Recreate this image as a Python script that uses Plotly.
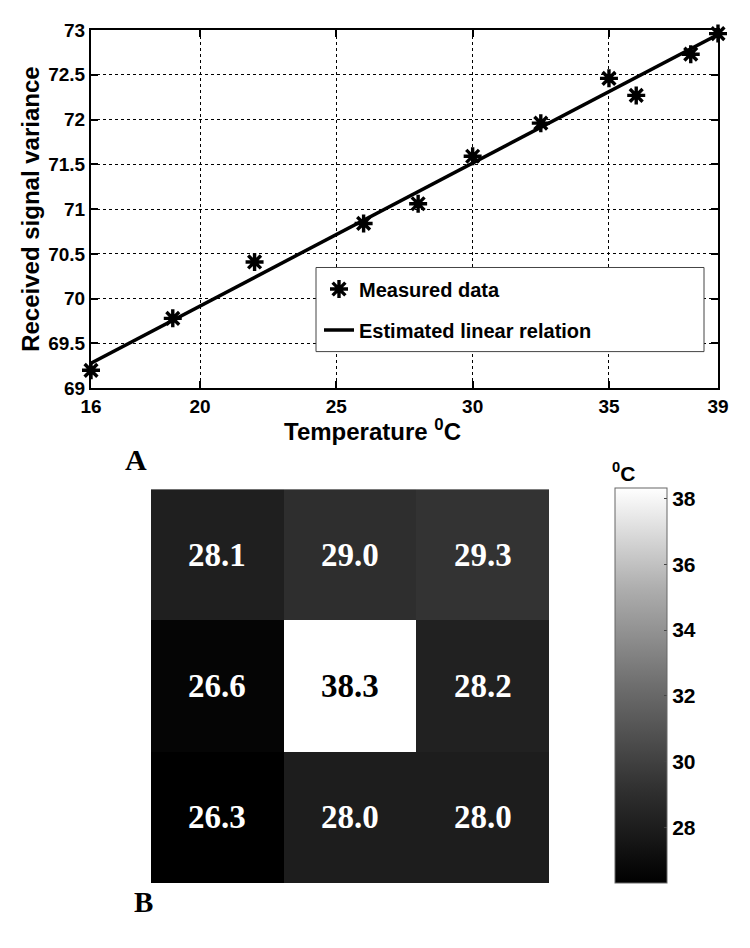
import plotly.graph_objects as go

# ---- Panel A data ----
temperature = [16, 19, 22, 26, 28, 30, 32.5, 35, 36, 38, 39]
variance = [69.2, 69.78, 70.41, 70.84, 71.06, 71.59, 71.96, 72.46, 72.27, 72.73, 72.96]
fit_x = [16, 39]
fit_y = [69.28, 72.95]
x_ticks = [16, 20, 25, 30, 35, 39]
y_ticks = [69, 69.5, 70, 70.5, 71, 71.5, 72, 72.5, 73]

# ---- Panel B data ----
grid_temps = [
    [28.1, 29.0, 29.3],
    [26.6, 38.3, 28.2],
    [26.3, 28.0, 28.0],
]
cbar_ticks = [28, 30, 32, 34, 36, 38]

W, H = 750, 948
OFF = 8  # page body margin
# target page-pixel extents of the plotting region
L_PX, R_PX, T_PX, B_PX = 91, 718, 21, 883
ML = L_PX - OFF
MT = T_PX - OFF
MR = W - (R_PX - OFF)
MB = H - (B_PX - OFF)
PW, PH = W - ML - MR, H - MT - MB

def fx(p):  # page pixel x -> paper fraction
    return (p - OFF - ML) / PW

def fy(p):  # page pixel y -> paper fraction
    return 1 - (p - OFF - MT) / PH

fig = go.Figure()

fig.add_trace(go.Scatter(
    x=temperature, y=variance, mode="markers", name="Measured data",
    legendgroup="a", cliponaxis=False,
    marker=dict(symbol="asterisk-open", size=15, color="black",
                line=dict(width=3.4, color="black")),
    xaxis="x", yaxis="y"))
fig.add_trace(go.Scatter(
    x=fit_x, y=fit_y, mode="lines", name="Estimated linear relation",
    legendgroup="b",
    line=dict(color="black", width=3.5),
    xaxis="x", yaxis="y"))

gray_scale = [[0, "#000000"], [0.15, "#1f1f1f"], [0.25, "#333333"],
              [0.5, "#6e6e6e"], [0.75, "#afafaf"], [1, "#ffffff"]]

fig.add_trace(go.Heatmap(
    z=grid_temps, x=[0, 1, 2], y=[0, 1, 2],
    colorscale=gray_scale,
    zmin=26.3, zmax=38.3,
    showscale=True, showlegend=False, hoverinfo="z",
    colorbar=dict(
        x=fx(615), xanchor="left", xpad=0, ypad=0,
        y=fy(883.5), yanchor="bottom", len=(883.5 - 484) / PH, lenmode="fraction",
        thickness=52, thicknessmode="pixels",
        outlinecolor="#666666", outlinewidth=1,
        tickvals=cbar_ticks, ticks="inside", ticklen=3, tickcolor="#444",
        tickfont=dict(family="Liberation Sans", size=21, color="black", weight="bold"),
    ),
    xaxis="x2", yaxis="y2"))

annotations = []
for r, row in enumerate(grid_temps):
    for c, v in enumerate(row):
        annotations.append(dict(
            x=c, y=r, xref="x2", yref="y2", text=f"{v:.1f}", showarrow=False,
            font=dict(family="Liberation Serif", size=33, weight="bold",
                      color="black" if v > 34 else "white")))

annotations += [
    dict(text="Temperature <sup>0</sup>C", x=fx(372), y=fy(425), xref="paper", yref="paper",
         showarrow=False, font=dict(family="Liberation Sans", size=24, color="black", weight="bold")),
    dict(text="<sup>0</sup>C", x=fx(637), y=fy(468), xref="paper", yref="paper",
         showarrow=False, font=dict(family="Liberation Sans", size=21, color="black", weight="bold")),
    dict(text="A", x=fx(123), y=fy(455), xref="paper", yref="paper",
         showarrow=False, font=dict(family="Liberation Serif", size=30, color="black", weight="bold")),
    dict(text="B", x=fx(132), y=fy(920), xref="paper", yref="paper",
         showarrow=False, font=dict(family="Liberation Serif", size=29, color="black", weight="bold")),
]

axis_font = dict(family="Liberation Sans", size=19, color="black", weight="bold")
title_font = dict(family="Liberation Sans", size=24, color="black", weight="bold")

fig.update_layout(
    width=W, height=H,
    margin=dict(l=ML, r=MR, t=MT, b=MB),
    paper_bgcolor="white", plot_bgcolor="white",
    xaxis=dict(domain=[fx(91), fx(718)], range=[16, 39], tickvals=x_ticks,
               showgrid=True, gridcolor="black", griddash="dot", gridwidth=1,
               showline=True, linecolor="black", linewidth=2, mirror="ticks",
               ticks="inside", ticklen=7, tickwidth=2, tickcolor="black",
               tickfont=axis_font, zeroline=False, anchor="y"),
    yaxis=dict(domain=[fy(383), fy(21)], range=[69, 73], tickvals=y_ticks,
               showgrid=True, gridcolor="black", griddash="dot", gridwidth=1,
               showline=True, linecolor="black", linewidth=2, mirror="ticks",
               ticks="inside", ticklen=7, tickwidth=2, tickcolor="black",
               tickfont=axis_font, zeroline=False, anchor="x",
               title=dict(text="Received signal variance", font=title_font, standoff=2)),
    xaxis2=dict(domain=[fx(151), fx(549)], range=[-0.5, 2.5], visible=False,
                anchor="y2"),
    yaxis2=dict(domain=[fy(883), fy(485)], range=[2.5, -0.5], visible=False,
                anchor="x2"),
    showlegend=True,
    legend=dict(x=fx(319), y=fy(263), xanchor="left", yanchor="top",
                bgcolor="rgba(0,0,0,0)", borderwidth=0,
                traceorder="grouped", tracegroupgap=12,
                font=dict(family="Liberation Sans", size=20, color="black", weight="bold")),
    shapes=[dict(type="rect", xref="paper", yref="paper",
                 x0=fx(316), x1=fx(704), y0=fy(346), y1=fy(261),
                 line=dict(color="#444", width=1), fillcolor="white", layer="above")],
    annotations=annotations,
)

fig.write_html("out.html")
